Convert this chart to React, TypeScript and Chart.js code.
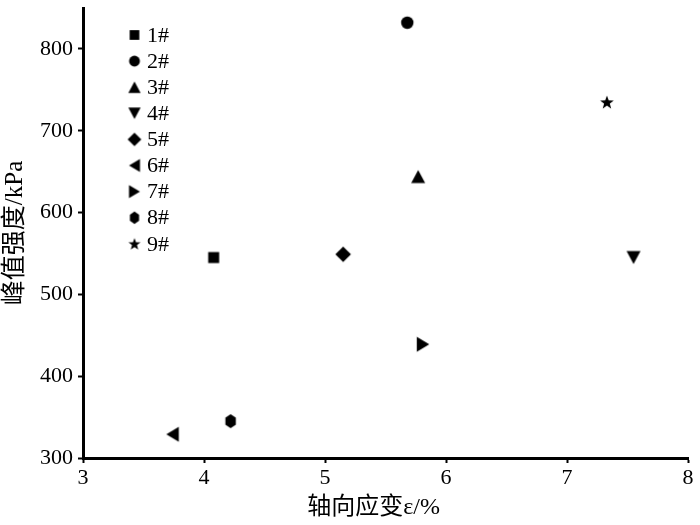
import React, { useEffect, useRef } from "react";
import { Chart, registerables } from "chart.js";

Chart.register(...registerables);

// ---- data ----
const seriesLabels = ["1#", "2#", "3#", "4#", "5#", "6#", "7#", "8#", "9#"];
const axialStrain = [4.08, 5.68, 5.77, 7.55, 5.15, 3.74, 5.81, 4.22, 7.33];
const peakStrength = [545, 832, 644, 545, 549, 329, 439, 345, 735];
const xTickValues = [3, 4, 5, 6, 7, 8];
const yTickValues = [300, 400, 500, 600, 700, 800];
const markerShapes = [
  "square",
  "circle",
  "triangleUp",
  "triangleDown",
  "diamond",
  "triangleLeft",
  "triangleRight",
  "hexagon",
  "star",
];

const FONT = "'Liberation Serif', 'Times New Roman', 'Noto Sans CJK SC', serif";

function makeMarker(shape: string, scale = 1): HTMLCanvasElement {
  const S = 20;
  const c = document.createElement("canvas");
  c.width = S;
  c.height = S;
  const ctx = c.getContext("2d")!;
  ctx.fillStyle = "#000";
  const cx = S / 2;
  const cy = S / 2;
  const k = scale;
  ctx.beginPath();
  switch (shape) {
    case "square": {
      const w = 11 * k;
      ctx.rect(cx - w / 2, cy - w / 2, w, w);
      break;
    }
    case "circle": {
      ctx.arc(cx, cy, 6.2 * k, 0, Math.PI * 2);
      break;
    }
    case "triangleUp": {
      const w = 14 * k, h = 13 * k;
      ctx.moveTo(cx, cy - h / 2);
      ctx.lineTo(cx + w / 2, cy + h / 2);
      ctx.lineTo(cx - w / 2, cy + h / 2);
      break;
    }
    case "triangleDown": {
      const w = 14 * k, h = 13 * k;
      ctx.moveTo(cx, cy + h / 2);
      ctx.lineTo(cx + w / 2, cy - h / 2);
      ctx.lineTo(cx - w / 2, cy - h / 2);
      break;
    }
    case "triangleLeft": {
      const w = 12.5 * k, h = 15 * k;
      ctx.moveTo(cx - w / 2, cy);
      ctx.lineTo(cx + w / 2, cy - h / 2);
      ctx.lineTo(cx + w / 2, cy + h / 2);
      break;
    }
    case "triangleRight": {
      const w = 12.5 * k, h = 15 * k;
      ctx.moveTo(cx + w / 2, cy);
      ctx.lineTo(cx - w / 2, cy - h / 2);
      ctx.lineTo(cx - w / 2, cy + h / 2);
      break;
    }
    case "diamond": {
      const r = 7.8 * k;
      ctx.moveTo(cx, cy - r);
      ctx.lineTo(cx + r, cy);
      ctx.lineTo(cx, cy + r);
      ctx.lineTo(cx - r, cy);
      break;
    }
    case "hexagon": {
      const rx = 6 * k, ry = 7 * k;
      for (let i = 0; i < 6; i++) {
        const a = -Math.PI / 2 + (i * Math.PI) / 3;
        const x = cx + rx * Math.cos(a) / Math.cos(Math.PI / 6);
        const y = cy + ry * Math.sin(a);
        const xx = cx + (x - cx) * 0.87;
        if (i === 0) ctx.moveTo(xx, y);
        else ctx.lineTo(xx, y);
      }
      break;
    }
    case "star": {
      const ro = 7.2 * k, ri = 3 * k;
      for (let i = 0; i < 10; i++) {
        const a = -Math.PI / 2 + (i * Math.PI) / 5;
        const r = i % 2 === 0 ? ro : ri;
        const x = cx + r * Math.cos(a);
        const y = cy + 0.6 * k + r * Math.sin(a);
        if (i === 0) ctx.moveTo(x, y);
        else ctx.lineTo(x, y);
      }
      break;
    }
  }
  ctx.closePath();
  ctx.fill();
  return c;
}

export default function App() {
  const ref = useRef<HTMLCanvasElement | null>(null);

  useEffect(() => {
    if (!ref.current) return;
    const pointImgs = markerShapes.map((s) => makeMarker(s, 1));
    const legendImgs = markerShapes.map((s) => makeMarker(s, 0.88));

    const insideLegend = {
      id: "insideLegend",
      afterDatasetsDraw(chart: any) {
        const { ctx, chartArea } = chart;
        ctx.save();
        ctx.font = `22px ${FONT}`;
        ctx.fillStyle = "#000";
        ctx.textBaseline = "middle";
        ctx.textAlign = "left";
        chart.data.datasets.forEach((ds: any, i: number) => {
          const y = chartArea.top + 27 + i * 26.1;
          const mx = chartArea.left + 51.5;
          const img = legendImgs[i];
          ctx.drawImage(img, mx - img.width / 2, y - img.height / 2);
          ctx.fillText(ds.label, chartArea.left + 64, y + 1);
        });
        ctx.restore();
      },
    };

    const chart = new Chart(ref.current, {
      type: "scatter",
      data: {
        datasets: seriesLabels.map((label, i) => ({
          label,
          data: [{ x: axialStrain[i], y: peakStrength[i] }],
          pointStyle: pointImgs[i] as any,
          pointRadius: 7,
          backgroundColor: "#000",
          borderColor: "#000",
        })),
      },
      options: {
        animation: false,
        responsive: false,
        devicePixelRatio: window.devicePixelRatio || 1,
        layout: { padding: { top: 5, right: 12, left: 0, bottom: 0 } },
        plugins: {
          legend: { display: false },
          tooltip: { enabled: false },
        },
        scales: {
          x: {
            type: "linear",
            min: 3,
            max: 8,
            afterBuildTicks: (s: any) => {
              s.ticks = xTickValues.map((v) => ({ value: v }));
            },
            afterFit: (s: any) => {
              s.height = 67;
            },
            ticks: {
              color: "#000",
              font: { family: FONT, size: 22 },
              padding: 2,
              maxRotation: 0,
            },
            grid: {
              display: true,
              drawOnChartArea: false,
              drawTicks: true,
              tickLength: 5,
              tickWidth: 2,
              tickColor: "#000",
            },
            border: { display: true, color: "#000", width: 3 },
            title: {
              display: true,
              text: "轴向应变ε/%    ",
              color: "#000",
              font: { family: FONT, size: 24 },
              padding: { top: 0, bottom: 3 },
            },
          },
          y: {
            type: "linear",
            min: 300,
            max: 850,
            afterBuildTicks: (s: any) => {
              s.ticks = yTickValues.map((v) => ({ value: v }));
            },
            afterFit: (s: any) => {
              s.width = 83;
              s.paddingTop = 0;
              s.paddingBottom = 0;
            },
            ticks: {
              color: "#000",
              font: { family: FONT, size: 22 },
              padding: 5,
            },
            grid: {
              display: true,
              drawOnChartArea: false,
              drawTicks: true,
              tickLength: 5,
              tickWidth: 2,
              tickColor: "#000",
            },
            border: { display: true, color: "#000", width: 3 },
            title: {
              display: true,
              text: "峰值强度/kPa",
              color: "#000",
              font: { family: FONT, size: 25 },
              padding: { top: 0, bottom: 0 },
            },
          },
        },
      },
      plugins: [insideLegend],
    });
    return () => chart.destroy();
  }, []);

  return (
    <div style={{ position: "absolute", left: 0, top: 0, width: 700, height: 525, background: "#fff" }}>
      <canvas ref={ref} width={700} height={525} style={{ display: "block", width: 700, height: 525 }} />
    </div>
  );
}
